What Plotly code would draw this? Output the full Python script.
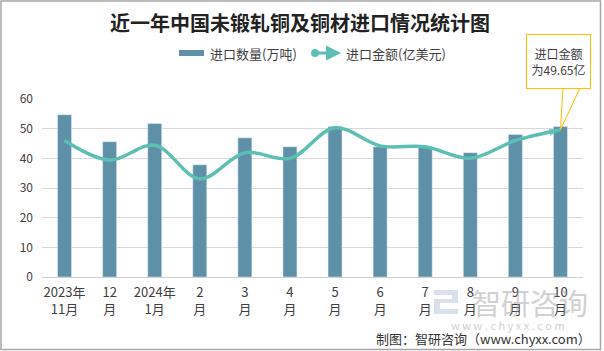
import plotly.graph_objects as go

categories = ["2023年<br>11月", "12<br>月", "2024年<br>1月", "2<br>月", "3<br>月", "4<br>月",
              "5<br>月", "6<br>月", "7<br>月", "8<br>月", "9<br>月", "10<br>月"]
import_volume = [54.7, 45.6, 51.7, 37.8, 46.9, 43.9, 50.7, 43.9, 44.0, 41.9, 48.0, 50.7]
import_value = [46.0, 39.4, 44.4, 33.1, 41.9, 40.0, 50.3, 44.2, 43.9, 40.0, 46.0, 49.65]
y_ticks = [0, 10, 20, 30, 40, 50, 60]

W, H = 604, 351
L, R, T, B = 42, 21, 99, 74
PW, PH = W - L - R, H - T - B

def px(x):
    return (x - L) / PW

def py(y):
    return (H - B - y) / PH

BAR = "#5e90a8"
LINE = "#5dbfb4"
TXT = "#404040"
FONT = "Noto Sans CJK SC"

n = len(categories)
symbols = ["circle"] + ["circle"] * (n - 2) + ["arrow"]
sizes = [10] + [0] * (n - 2) + [12]

fig = go.Figure()
fig.add_trace(go.Bar(x=categories, y=import_volume, marker_color=BAR, width=0.31,
                     name="进口数量(万吨)", showlegend=False))
fig.add_trace(go.Scatter(x=categories, y=import_value, mode="lines+markers",
                         line=dict(color=LINE, width=3.5, shape="spline", smoothing=1.0),
                         marker=dict(symbol=symbols, size=sizes, color=LINE, angleref="previous",
                                     line=dict(width=0)),
                         name="进口金额(亿美元)", showlegend=False))

shapes = []
# legend swatches
shapes.append(dict(type="rect", xref="paper", yref="paper", x0=px(179), x1=px(204), y0=py(50), y1=py(56),
                   fillcolor=BAR, line=dict(width=0)))
shapes.append(dict(type="line", xref="paper", yref="paper", x0=px(314), x1=px(334), y0=py(53), y1=py(53),
                   line=dict(color=LINE, width=3)))
shapes.append(dict(type="circle", xref="paper", yref="paper", x0=px(311), x1=px(319), y0=py(49), y1=py(57),
                   fillcolor=LINE, line=dict(width=0)))
# callout pointer lines
last_x = (n - 1 + 0.5) / n
last_y = import_value[-1] / 60
shapes.append(dict(type="line", xref="paper", yref="paper", x0=px(563), y0=py(88), x1=last_x, y1=last_y,
                   line=dict(color="#ffc000", width=1)))
shapes.append(dict(type="line", xref="paper", yref="paper", x0=px(580), y0=py(88), x1=last_x, y1=last_y,
                   line=dict(color="#ffc000", width=1)))
# watermark logo (faint)
shapes.append(dict(type="path", xref="paper", yref="paper",
                   path=f"M {px(434)} {py(290)} L {px(458)} {py(290)} L {px(458)} {py(303)} L {px(440)} {py(303)} "
                        f"L {px(440)} {py(309)} L {px(458)} {py(309)} L {px(458)} {py(314)} L {px(434)} {py(314)} "
                        f"L {px(434)} {py(299)} L {px(452)} {py(299)} L {px(452)} {py(295)} L {px(434)} {py(295)} Z",
                   fillcolor="rgba(150,170,200,0.35)", line=dict(width=0)))
# outer border
shapes.append(dict(type="rect", xref="paper", yref="paper", x0=px(1), x1=px(600.5), y0=py(1), y1=py(349.5),
                   line=dict(color="#a6a6a6", width=1.5), fillcolor="rgba(0,0,0,0)", layer="above"))

annotations = [
    dict(xref="paper", yref="paper", x=px(208), y=py(53), xanchor="left", yanchor="middle",
         text="进口数量(万吨)", showarrow=False, font=dict(size=13, color=TXT, family=FONT)),
    dict(xref="paper", yref="paper", x=px(344), y=py(53), xanchor="left", yanchor="middle",
         text="进口金额(亿美元)", showarrow=False, font=dict(size=13, color=TXT, family=FONT)),
    dict(xref="paper", yref="paper", x=px(341), y=py(53), ax=-14, ay=0, text="", showarrow=True,
         arrowhead=2, arrowsize=1, arrowwidth=3, arrowcolor=LINE),
    dict(xref="paper", yref="paper", x=px(558.5), y=py(61.5), xanchor="center", yanchor="middle",
         text="进口金额<br>为49.65亿", showarrow=False, align="center",
         font=dict(size=12, color=TXT, family=FONT), bgcolor="white", bordercolor="#ffc000",
         borderwidth=1, width=61, height=51),
    # watermark
    dict(xref="paper", yref="paper", x=px(530), y=py(302), xanchor="center", yanchor="middle",
         text="智研咨询", showarrow=False, opacity=0.45,
         font=dict(size=29, color="#9a9a9a", family=FONT)),
    dict(xref="paper", yref="paper", x=px(508), y=py(325), xanchor="center", yanchor="middle",
         text="w w w . c h y x x . c o m", showarrow=False, opacity=0.45,
         font=dict(size=11, color="#9a9a9a", family=FONT)),
    dict(xref="paper", yref="paper", x=px(593), y=py(338), xanchor="right", yanchor="middle",
         text="制图：智研咨询（www.chyxx.com）", showarrow=False,
         font=dict(size=13, color="#333333", family=FONT)),
]

fig.update_layout(
    width=W, height=H,
    margin=dict(l=L, r=R, t=T, b=B, pad=0),
    paper_bgcolor="white", plot_bgcolor="white",
    title=dict(text="<b>近一年中国未锻轧铜及铜材进口情况统计图</b>", xref="paper", x=px(300),
               xanchor="center", y=1 - 24 / H, yanchor="middle",
               font=dict(size=20, color="#222222", family=FONT)),
    showlegend=False,
    bargap=0.69,
    xaxis=dict(type="category", range=[-0.5, n - 0.5], autorange=False, automargin=False,
               showgrid=False, showline=False, zeroline=False,
               tickfont=dict(size=13, color=TXT, family=FONT), ticks="", ticklabelstandoff=6,
               fixedrange=True),
    yaxis=dict(range=[0, 60], autorange=False, automargin=False, tickvals=y_ticks,
               showgrid=True, gridcolor="#d9d9d9", gridwidth=1,
               zeroline=True, zerolinecolor="#d0d0d0", zerolinewidth=1, showline=False,
               tickfont=dict(size=12, color=TXT, family=FONT), ticks="", ticklabelstandoff=8,
               fixedrange=True),
    shapes=shapes,
    annotations=annotations,
)

fig.write_html("out.html")
